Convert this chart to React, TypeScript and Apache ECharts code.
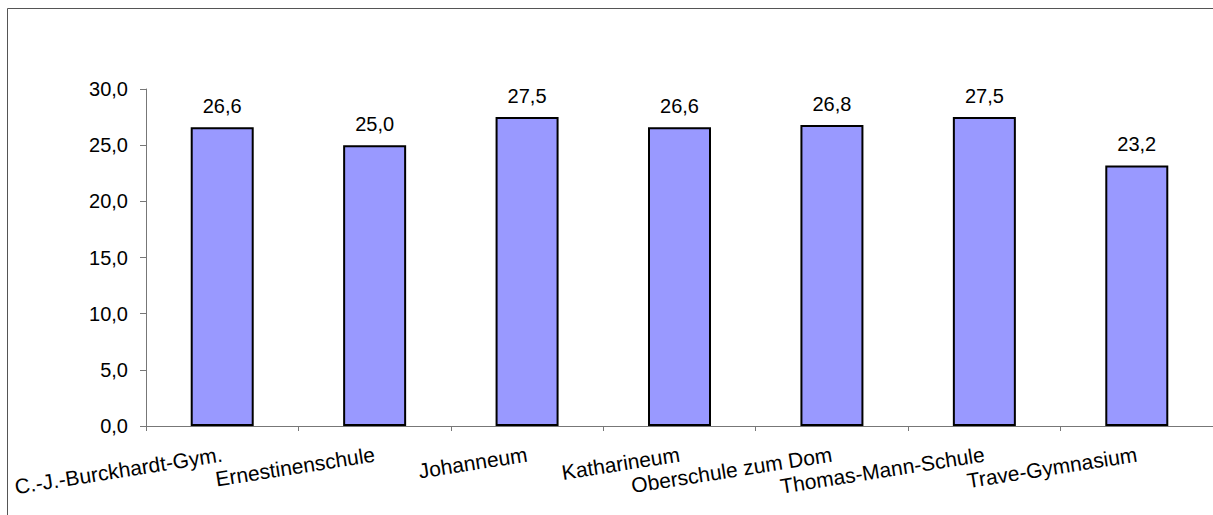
import React, { useEffect, useRef } from "react";
import * as echarts from "echarts";

const categories = [
  "C.-J.-Burckhardt-Gym.",
  "Ernestinenschule",
  "Johanneum",
  "Katharineum",
  "Oberschule zum Dom",
  "Thomas-Mann-Schule",
  "Trave-Gymnasium",
];
const values = [26.6, 25.0, 27.5, 26.6, 26.8, 27.5, 23.2];
const yTicks = { min: 0, max: 30, interval: 5 };

const fmt = (v: number) => v.toFixed(1).replace(".", ",");
const FONT = "'Liberation Sans', Arial, sans-serif";

export default function App() {
  const ref = useRef<HTMLDivElement>(null);
  useEffect(() => {
    if (!ref.current) return;
    const chart = echarts.init(ref.current, null, { renderer: "svg" });
    chart.setOption({
      animation: false,
      backgroundColor: "#ffffff",
      textStyle: { fontFamily: FONT },
      graphic: [
        {
          type: "rect",
          shape: { x: 7.5, y: 8.5, width: 1240, height: 540 },
          style: { fill: "none", stroke: "#555555", lineWidth: 1 },
          silent: true,
        },
      ],
      grid: { left: 146, top: 89, bottom: 89, width: 1071 },
      xAxis: {
        type: "category",
        data: categories,
        axisLine: { show: true, lineStyle: { color: "#777777", width: 1 } },
        axisTick: { show: true, length: 5, lineStyle: { color: "#777777" } },
        axisLabel: {
          interval: 0,
          rotate: 9,
          margin: 28,
          fontSize: 21,
          color: "#000000",
          fontFamily: FONT,
        },
      },
      yAxis: {
        type: "value",
        min: yTicks.min,
        max: yTicks.max,
        interval: yTicks.interval,
        axisLine: { show: true, lineStyle: { color: "#777777", width: 1 } },
        axisTick: { show: true, length: 6, lineStyle: { color: "#777777" } },
        splitLine: { show: false },
        axisLabel: {
          margin: 18,
          fontSize: 20,
          color: "#000000",
          fontFamily: FONT,
          formatter: (v: number) => fmt(v),
        },
      },
      series: [
        {
          type: "bar",
          data: values,
          barWidth: 63,
          itemStyle: { color: "#9999FF", borderColor: "#000000", borderWidth: 2 },
          label: {
            show: true,
            position: "top",
            distance: 11,
            fontSize: 20,
            color: "#000000",
            fontFamily: FONT,
            formatter: (p: any) => fmt(p.value),
          },
        },
      ],
    });
    return () => chart.dispose();
  }, []);
  return (
    <div
      ref={ref}
      style={{ position: "absolute", left: 0, top: 0, width: 1213, height: 515 }}
    />
  );
}
